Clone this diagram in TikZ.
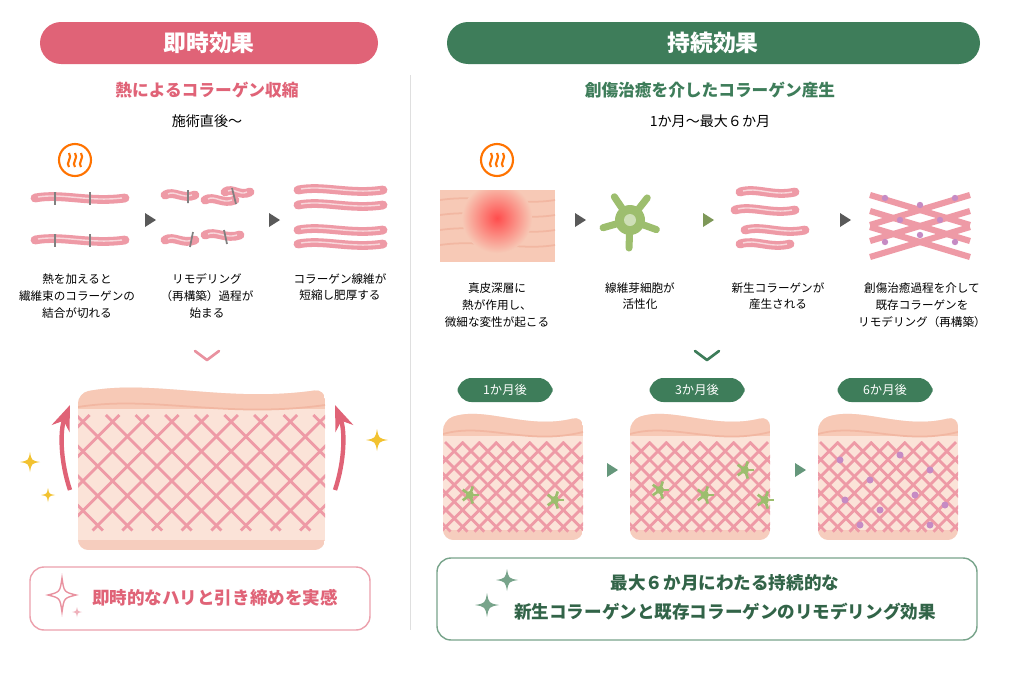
\documentclass[tikz,border=0pt]{standalone}
\usepackage{fontspec}
\setmainfont{Noto Sans CJK JP}
\usetikzlibrary{positioning,calc,shapes.geometric,arrows.meta}
\definecolor{pinkH}{HTML}{E06377}
\definecolor{greenH}{HTML}{3E7D5A}
\definecolor{fiber}{HTML}{EE9AA6}
\definecolor{skinA}{HTML}{F7C9B6}
\definecolor{skinB}{HTML}{FBE3D8}
\definecolor{skinC}{HTML}{F2B7A2}
\definecolor{cellG}{HTML}{9DBE6E}
\definecolor{dotP}{HTML}{C68BC4}
\definecolor{spark}{HTML}{F2C230}
\tikzset{
  sub/.style={font=\fontsize{9.5}{10}\selectfont\bfseries},
  note/.style={font=\fontsize{8}{9}\selectfont},
  stepcap/.style={font=\fontsize{6.6}{9.5}\selectfont,align=center},
  pillG/.style={fill=greenH,rounded corners=8pt,text=white,minimum width=95*0.02cm,minimum height=24*0.02cm,font=\fontsize{7}{7}\selectfont},
}
% skin block: #1 = x, #2 = y, #3 = width, #4 = height
\newcommand{\skinblock}[4]{%
  \begin{scope}
    \clip[rounded corners=6pt] (#1,#2+8) .. controls (#1+#3*0.3,#2-6) and (#1+#3*0.6,#2+18) .. (#1+#3,#2+4) -- (#1+#3,#2+#4) -- (#1,#2+#4) -- cycle;
    \fill[skinB] (#1,#2-20) rectangle (#1+#3,#2+#4);
    \fill[skinA] (#1,#2-20) rectangle (#1+#3,#2+24);
    \draw[skinC,line width=1pt] (#1,#2+22) .. controls (#1+#3*0.3,#2+10) and (#1+#3*0.6,#2+34) .. (#1+#3,#2+20);
    \fill[skinC!70] (#1,#2+#4-10) rectangle (#1+#3,#2+#4);
    \foreach \k in {-6,...,6} {
      \draw[fiber,line width=1.6pt] (#1+#3*0.5+\k*#3*0.12-#4*0.4,#2+30) -- ++(#4*0.7,#4*0.7);
      \draw[fiber,line width=1.6pt] (#1+#3*0.5+\k*#3*0.12+#4*0.4,#2+30) -- ++(-#4*0.7,#4*0.7);
    }
  \end{scope}}
\newcommand{\sparkstar}[4]{\fill[#4] (#1,#2-#3) .. controls (#1+#3*0.15,#2-#3*0.15) .. (#1+#3,#2) .. controls (#1+#3*0.15,#2+#3*0.15) .. (#1,#2+#3) .. controls (#1-#3*0.15,#2+#3*0.15) .. (#1-#3,#2) .. controls (#1-#3*0.15,#2-#3*0.15) .. cycle;}
\newcommand{\heaticon}[2]{%
  \draw[orange!90!red,line width=1.2pt,fill=white] (#1,#2) circle (16);
  \foreach \d in {-6,0,6}
    \draw[orange!90!red,line width=1.2pt] (#1+\d,#2+7) .. controls (#1+\d-4,#2+3) and (#1+\d+4,#2-2) .. (#1+\d,#2-7);}
\newcommand{\triarrow}[3]{\fill[#3] (#1-5,#2-7) -- (#1+6,#2) -- (#1-5,#2+7) -- cycle;}
\newcommand{\chevron}[3]{\draw[#3,line width=1.5pt,line cap=round,line join=round] (#1-12,#2-5) -- (#1,#2+4) -- (#1+12,#2-5);}
\newcommand{\twist}[4]{% x y length color
  \draw[#4,line width=5pt,line cap=round] (#1,#2) .. controls (#1+#3*0.3,#2-5) and (#1+#3*0.6,#2+5) .. (#1+#3,#2);
  \draw[white!60!#4,line width=0.8pt] (#1+3,#2-1) .. controls (#1+#3*0.3,#2-5) and (#1+#3*0.6,#2+4) .. (#1+#3-3,#2);}

\begin{document}
\begin{tikzpicture}[x=0.02cm,y=-0.02cm,>=Stealth]
\useasboundingbox[fill=white] (0,0) rectangle (1012,674);

% headers
\fill[pinkH,rounded corners=12pt] (40,22) rectangle (378,64);
\node[text=white,font=\fontsize{13}{13}\selectfont\bfseries] (hL) at (209,43) {即時効果};
\fill[greenH,rounded corners=12pt] (447,22) rectangle (980,64);
\node[text=white,font=\fontsize{13}{13}\selectfont\bfseries] (hR) at (713,43) {持続効果};
\draw[gray!25] (410,75) -- (410,630);

\node[sub,text=pinkH] (sL) at (207,90) {熱によるコラーゲン収縮};
\node[note] (tL) at (207,121) {施術直後～};
\node[sub,text=greenH] (sR) at (710,90) {創傷治癒を介したコラーゲン産生};
\node[note] (tR) at (710,121) {1か月～最大６か月};

% left steps
\heaticon{75}{160}
\twist{35}{198}{90}{fiber}
\twist{35}{240}{90}{fiber}
\foreach \x in {55,90} {\draw[gray,line width=1pt] (\x,192)--(\x,205); \draw[gray,line width=1pt] (\x,234)--(\x,247);}
\twist{165}{195}{30}{fiber} \twist{205}{200}{30}{fiber} \twist{225}{192}{25}{fiber}
\twist{165}{240}{30}{fiber} \twist{205}{235}{35}{fiber}
\draw[gray,line width=1pt] (188,190)--(188,203) (232,188)--(236,204) (193,232)--(190,247) (224,230)--(227,244);
\twist{298}{190}{85}{fiber} \twist{298}{205}{85}{fiber} \twist{298}{230}{85}{fiber} \twist{298}{244}{85}{fiber}
\triarrow{150}{220}{gray!70!black}
\triarrow{274}{220}{gray!70!black}
\node[stepcap] (cL1) at (77,296) {熱を加えると\\繊維束のコラーゲンの\\結合が切れる};
\node[stepcap] (cL2) at (207,296) {リモデリング\\（再構築）過程が\\始まる};
\node[stepcap] (cL3) at (340,287) {コラーゲン線維が\\短縮し肥厚する};
\chevron{207}{356}{pinkH!70}

% left skin
\skinblock{78}{385}{247}{165}
\draw[pinkH,line width=2.5pt,->] (70,490) .. controls (60,460) and (60,430) .. (70,405);
\draw[pinkH,line width=2.5pt,->] (335,490) .. controls (345,460) and (345,430) .. (335,405);
\sparkstar{30}{462}{10}{spark} \sparkstar{48}{495}{7}{spark} \sparkstar{377}{440}{11}{spark}
\draw[pinkH!60,rounded corners=8pt,line width=0.8pt] (30,567) rectangle (370,630);
\node[text=pinkH,font=\fontsize{10}{10}\selectfont\bfseries] (bL) at (215,598) {即時的なハリと引き締めを実感};
\draw[pinkH!70,line width=0.8pt] (62,578) .. controls (64,592) .. (76,595) .. controls (64,598) .. (62,612) .. controls (60,598) .. (48,595) .. controls (60,592) .. cycle;
\sparkstar{77}{612}{5}{pinkH!50}

% right steps
\heaticon{497}{160}
\begin{scope}
\clip (440,190) rectangle (555,262);
\fill[skinA] (440,190) rectangle (555,262);
\foreach \yy in {200,215,230,245} \draw[skinC,line width=1pt] (440,\yy) .. controls (480,\yy-6) and (520,\yy+6) .. (555,\yy);
\shade[inner color=red!70,outer color=skinA] (497,218) circle (35);
\end{scope}
\foreach \a in {0,72,144,216,288} \draw[cellG,line width=4pt,line cap=round] (630,220) -- ++(\a+20:28);
\fill[cellG] (630,220) circle (15);
\fill[cellG!50!white] (630,220) circle (6);
\twist{740}{192}{55}{fiber} \twist{735}{210}{60}{fiber} \twist{745}{230}{60}{fiber} \twist{740}{244}{50}{fiber}
\foreach \k in {0,1,2} {\draw[fiber,line width=3.5pt] (870,195+\k*16) -- (970,195+\k*16+30); \draw[fiber,line width=3.5pt] (870,225+\k*16) -- (970,195+\k*16);}
\foreach \xx/\yy in {885/198,920/205,955/198,900/220,940/220,885/242,920/235,955/242} \fill[dotP] (\xx,\yy) circle (3.2);
\triarrow{580}{220}{gray!70!black}
\triarrow{708}{220}{cellG!80!black}
\triarrow{845}{220}{gray!70!black}
\node[stepcap] (cR1) at (497,305) {真皮深層に\\熱が作用し、\\微細な変性が起こる};
\node[stepcap] (cR2) at (640,296) {線維芽細胞が\\活性化};
\node[stepcap] (cR3) at (778,296) {新生コラーゲンが\\産生される};
\node[stepcap] (cR4) at (922,305) {創傷治癒過程を介して\\既存コラーゲンを\\リモデリング（再構築）};
\chevron{707}{356}{greenH}

\node[pillG] (m1) at (505,390) {1か月後};
\node[pillG] (m3) at (697,390) {3か月後};
\node[pillG] (m6) at (885,390) {6か月後};
\skinblock{443}{412}{140}{128}
\skinblock{630}{412}{140}{128}
\skinblock{818}{412}{140}{128}
\foreach \xx/\yy in {470/495,555/500,660/490,705/495,745/470,765/500} {\foreach \a in {0,72,144,216,288} \draw[cellG,line width=1.5pt] (\xx,\yy) -- ++(\a:9); \fill[cellG] (\xx,\yy) circle (4);}
\foreach \xx/\yy in {840/460,870/480,900/455,930/470,845/500,880/510,915/495,945/505,860/525,930/525} \fill[dotP] (\xx,\yy) circle (3.5);
\triarrow{612}{470}{greenH!80}
\triarrow{800}{470}{greenH!80}

\draw[greenH!70,rounded corners=8pt,line width=0.8pt] (437,558) rectangle (977,640);
\node[text=greenH!80!black,font=\fontsize{10}{10}\selectfont\bfseries] (bR1) at (725,583) {最大６か月にわたる持続的な};
\node[text=greenH!80!black,font=\fontsize{10}{10}\selectfont\bfseries] (bR2) at (725,612) {新生コラーゲンと既存コラーゲンのリモデリング効果};
\sparkstar{507}{580}{11}{greenH!70}
\sparkstar{487}{605}{12}{greenH!70}
\end{tikzpicture}
\end{document}
